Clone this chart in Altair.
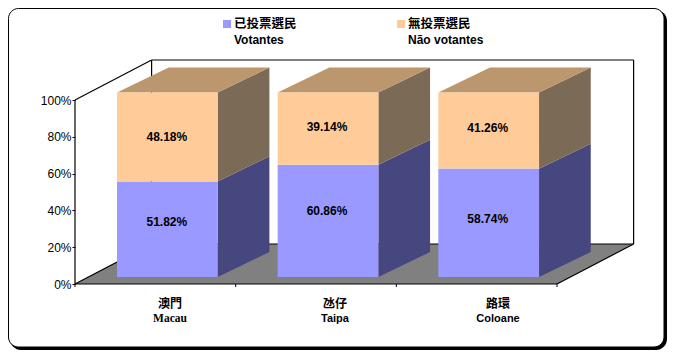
import altair as alt
import pandas as pd

# ---------- data ----------
categories_zh = ["澳門", "氹仔", "路環"]
categories_pt = ["Macau", "Taipa", "Coloane"]
voters = [51.82, 60.86, 58.74]
non_voters = [48.18, 39.14, 41.26]
y_ticks = [0, 20, 40, 60, 80, 100]
legend_zh = ["已投票選民", "無投票選民"]
legend_pt = ["Votantes", "Não votantes"]

# ---------- layout (chart pixels = screenshot pixels - 8) ----------
W, H = 659, 342
PX_X = 160.67          # pixels per category
PX_Y = 1.84            # pixels per percent
X0, Y0 = 67, 276       # pixel of the origin
WALL_DX, WALL_DY = 76.6 / PX_X, 40 / PX_Y
BAR_LEFT = 42 / PX_X
BAR_W = 100.7 / PX_X
BAR_BASE = 7 / PX_Y
BAR_K = 184.5 / 184
SIDE_DX, SIDE_DY = 51.7 / PX_X, 25 / PX_Y
LABEL_CENTRES = [0.591, 1.618, 2.633]
NUDGE_LOW = [-7.3, -10.3, -4.3]
NUDGE_HIGH = [0, -2, -2.7]
LABEL_SHIFT = [-0.5, -1, -1]
LEG_SQ_X = [219, 393]
LEG_TXT_X = [226, 400]

C_BLUE, C_ORANGE = "#9999FF", "#FFCC99"
C_BLUE_SIDE, C_ORANGE_SIDE, C_TOP, C_FLOOR = "#47477F", "#7B6A55", "#BC966C", "#808080"
SANS = "Liberation Sans"
CJK = "Noto Sans CJK TC"

sx = alt.Scale(domain=[-X0 / PX_X, (W - X0) / PX_X], range=[0, W], nice=False, zero=False)
sy = alt.Scale(domain=[-(H - Y0) / PX_Y, Y0 / PX_Y], range=[H, 0], nice=False, zero=False)
X = alt.X("x:Q", scale=sx, axis=None)
Y = alt.Y("y:Q", scale=sy, title=None, axis=alt.Axis(
    values=y_ticks, offset=-X0, domain=False, grid=False, title=None, zindex=1,
    tickColor="black", tickSize=3, tickWidth=1, labelColor="black", labelFont=SANS,
    labelFontSize=12, labelPadding=1, labelExpr="datum.value + '%'"))


def seg_y(v):
    return v * BAR_K + BAR_BASE


# ---------- frame ----------
one = pd.DataFrame({"a": [0]})
shadow = alt.Chart(one).mark_rect(color="black", cornerRadius=11).encode(
    x=alt.value(2), x2=alt.value(W), y=alt.value(2), y2=alt.value(H))
panel = alt.Chart(one).mark_rect(fill="white", stroke="black", strokeWidth=1, cornerRadius=10).encode(
    x=alt.value(0.5), x2=alt.value(W - 3), y=alt.value(0.5), y2=alt.value(H - 3))

# ---------- floor ----------
floor_df = pd.DataFrame({
    "y": [0, WALL_DY],
    "x": [0, WALL_DX],
    "x1": [3, 3 + WALL_DX],
})
floor = alt.Chart(floor_df).mark_area(orient="horizontal", color=C_FLOOR, opacity=1).encode(
    y=Y, x=X, x2="x1:Q")

# ---------- wireframe ----------
rows = []
segs = [
    [(0, 100, 0), (0, 100, 1)],
    [(0, 100, 1), (3, 100, 1)],
    [(3, 100, 1), (3, 0, 1)],
    [(0, 100, 1), (0, 0, 1)],
    [(0, 0, 1), (3, 0, 1)],
    [(0, 0, 0), (0, 0, 1)],
    [(3, 0, 0), (3, 0, 1)],
    [(0, 0, 0), (0, 100, 0)],
    [(0, 0, 0), (3, 0, 0)],
]
for i, s in enumerate(segs):
    for n, (cx, cy, d) in enumerate(s):
        rows.append({"id": i, "o": n, "x": cx + d * WALL_DX, "y": cy + d * WALL_DY})
wire_df = pd.DataFrame(rows)
wire = alt.Chart(wire_df).mark_line(color="black", strokeWidth=1.2).encode(
    x=X, y=Y, detail="id:N", order="o:Q")

xtick_df = pd.DataFrame({"x": [0, 1, 2, 3], "y": [0] * 4, "y1": [-3 / PX_Y] * 4})
xticks = alt.Chart(xtick_df).mark_rule(color="black").encode(x=X, y=Y, y2="y1:Q")

# ---------- bars ----------
front_rows, side_rows, top_rows = [], [], []
for i in range(3):
    left = i + BAR_LEFT
    right = left + BAR_W
    lo = [(0, voters[i], C_BLUE, C_BLUE_SIDE), (voters[i], voters[i] + non_voters[i], C_ORANGE, C_ORANGE_SIDE)]
    for k, (a, b, c, cs) in enumerate(lo):
        front_rows.append({"x": left, "x1": right, "y": seg_y(a), "y1": seg_y(b), "c": c})
        sid = f"{i}-{k}"
        side_rows.append({"id": sid, "x": right, "y": seg_y(a), "y1": seg_y(b), "c": cs})
        side_rows.append({"id": sid, "x": right + SIDE_DX, "y": seg_y(a) + SIDE_DY,
                          "y1": seg_y(b) + SIDE_DY, "c": cs})
    t = seg_y(voters[i] + non_voters[i])
    top_rows.append({"id": i, "y": t, "x": left, "x1": right})
    top_rows.append({"id": i, "y": t + SIDE_DY, "x": left + SIDE_DX, "x1": right + SIDE_DX})

side = alt.Chart(pd.DataFrame(side_rows)).mark_area(opacity=1).encode(
    x=X, y=Y, y2="y1:Q", detail="id:N", color=alt.Color("c:N", scale=None))
top = alt.Chart(pd.DataFrame(top_rows)).mark_area(orient="horizontal", color=C_TOP, opacity=1).encode(
    y=Y, x=X, x2="x1:Q", detail="id:N")
front = alt.Chart(pd.DataFrame(front_rows)).mark_rect(opacity=1).encode(
    x=X, x2="x1:Q", y=Y, y2="y1:Q", color=alt.Color("c:N", scale=None))

# ---------- value labels ----------
lab_rows = []
for i in range(3):
    cx = i + BAR_LEFT + BAR_W / 2 + LABEL_SHIFT[i] / PX_X
    ya = seg_y(voters[i] / 2) - NUDGE_LOW[i] / PX_Y
    yb = seg_y(voters[i] + non_voters[i] / 2) - NUDGE_HIGH[i] / PX_Y
    lab_rows.append({"x": cx, "y": ya, "t": f"{voters[i]:.2f}%"})
    lab_rows.append({"x": cx, "y": yb, "t": f"{non_voters[i]:.2f}%"})
labels = alt.Chart(pd.DataFrame(lab_rows)).mark_text(
    font=SANS, fontSize=12, fontWeight="bold", color="black", baseline="middle", align="center"
).encode(x=X, y=Y, text="t:N")

# ---------- category labels ----------
zh_df = pd.DataFrame({"x": LABEL_CENTRES, "y": [-20 / PX_Y] * 3, "t": categories_zh})
cat_zh = alt.Chart(zh_df).mark_text(
    font=CJK, fontSize=12, fontWeight="bold", color="black", baseline="middle", align="center"
).encode(x=X, y=Y, text="t:N")
pt_df = pd.DataFrame({"x": LABEL_CENTRES, "y": [-34.5 / PX_Y] * 3, "t": categories_pt,
                      "serif": [True, False, False]})
cat_pt_a = alt.Chart(pt_df[pt_df.serif]).mark_text(
    font="Liberation Serif", fontSize=11.5, fontWeight="bold", color="black", baseline="middle", align="center"
).encode(x=X, y=Y, text="t:N")
cat_pt_b = alt.Chart(pt_df[~pt_df.serif]).mark_text(
    font=SANS, fontSize=11, fontWeight="bold", color="black", baseline="middle", align="center"
).encode(x=X, y=Y, text="t:N")

# ---------- legend ----------
leg_layers = []
for i in range(2):
    row = pd.DataFrame({"zh": [legend_zh[i]], "pt": [legend_pt[i]]})
    leg_layers.append(alt.Chart(row).mark_square(
        size=64, opacity=1, color=[C_BLUE, C_ORANGE][i]
    ).encode(x=alt.value(LEG_SQ_X[i]), y=alt.value(16)))
    leg_layers.append(alt.Chart(row).mark_text(
        font=CJK, fontSize=12.5, fontWeight="bold", color="black", baseline="middle", align="left"
    ).encode(x=alt.value(LEG_TXT_X[i]), y=alt.value(16), text="zh:N"))
    leg_layers.append(alt.Chart(row).mark_text(
        font=SANS, fontSize=12, fontWeight="bold", color="black", baseline="middle", align="left"
    ).encode(x=alt.value(LEG_TXT_X[i]), y=alt.value(31.5), text="pt:N"))

chart = alt.layer(
    shadow, panel, floor, wire, xticks, side, top, front, labels,
    cat_zh, cat_pt_a, cat_pt_b, *leg_layers,
).resolve_scale(x="shared", y="shared").properties(
    width=W, height=H, padding=0, background="white",
    autosize=alt.AutoSizeParams(type="none"),
).configure_view(stroke=None)

chart.save("out.html", embed_options={"renderer": "svg", "actions": False})
